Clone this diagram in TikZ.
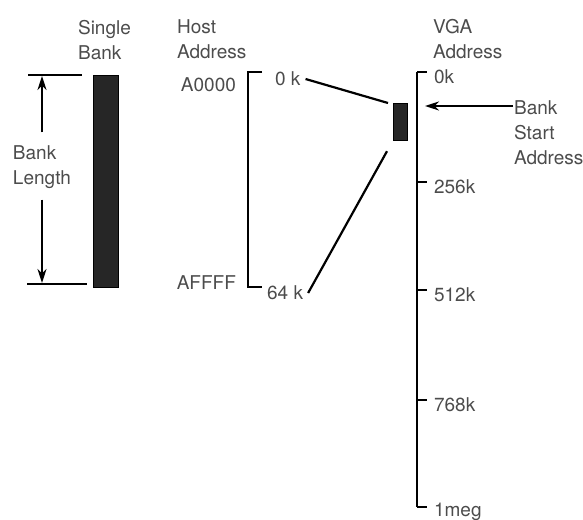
\documentclass[tikz,border=0pt]{standalone}
\usepackage{fontspec}
\setmainfont{TeX Gyre Heros}
\usetikzlibrary{arrows.meta,positioning}

\begin{document}
\begin{tikzpicture}[x=0.5pt, y=-0.5pt, line width=1.1pt,
  font=\fontsize{9.5}{12.5}\selectfont,
  lbl/.style={text=black!70, inner sep=0pt, align=left},
  bankbar/.style={draw=black, fill=black!85, line width=0.6pt, inner sep=0pt},
  tip/.style={-{Stealth[length=7pt,width=4.5pt]}}]
\useasboundingbox (0,0) rectangle (583,519);

% single bank with its length
\node[lbl, anchor=north west] (single) at (77,19) {Single\\Bank};
\node[bankbar, anchor=north west, minimum width=12.5pt, minimum height=106pt]
  (bank) at (93,75) {};
\coordinate (lentop) at (42,76);
\coordinate (lenbot) at (42,283);
\draw (28,75) -- (82,75);
\draw (27,284) -- (87,284);
\node[lbl] (banklen) at (42,167) {Bank\\Length};
\draw[tip] (banklen.north) ++(0,-12) -- (lentop);
\draw[tip] (banklen.south) ++(0,10) -- (lenbot);

% host address range
\node[lbl, anchor=north west] (host) at (176,19) {Host\\Address};
\node[lbl, anchor=east] (a0000) at (237,85) {A0000};
\node[lbl, anchor=east] (affff) at (237,283) {AFFFF};
\coordinate (hosttop) at (248,72);
\coordinate (hostbot) at (248,287);
\draw ([xshift=7pt]hosttop) -- (hosttop) -- (hostbot) -- ([xshift=7pt]hostbot);
\node[lbl, anchor=west] (zerok) at (274,79) {0 k};
\node[lbl, anchor=west] (sixtyfourk) at (266,293) {64 k};

% vga address space
\node[lbl, anchor=north west] (vga) at (432,18) {VGA\\Address};
\coordinate (vgatop) at (417,72);
\coordinate (vgabot) at (417,507);
\node[bankbar, anchor=north west, minimum width=7pt, minimum height=18.5pt]
  (start) at (393,103) {};
\draw ([xshift=2pt]zerok.east) -- ([xshift=-2.5pt]start.north west);
\draw ([xshift=2pt]sixtyfourk.east) -- ([shift={(-3pt,-5pt)}]start.south west);
\draw (vgatop) -- (vgabot);
\foreach \y/\txt [count=\i] in {72/0k, 182/256k, 290/512k, 400/768k, 507/1meg} {
  \draw (417,\y) -- ++(10,0)
    node[lbl, anchor=west, xshift=3pt, yshift=-2.5pt] (tick\i) {\txt};
}

\node[lbl, anchor=north west] (bsa) at (513,100) {Bank\\Start\\Address};
\draw[tip] ([yshift=-3pt]bsa.north west) -- ([yshift=-3pt]bsa.north west -| vgatop)
  [shorten >=4pt];
\end{tikzpicture}
\end{document}
